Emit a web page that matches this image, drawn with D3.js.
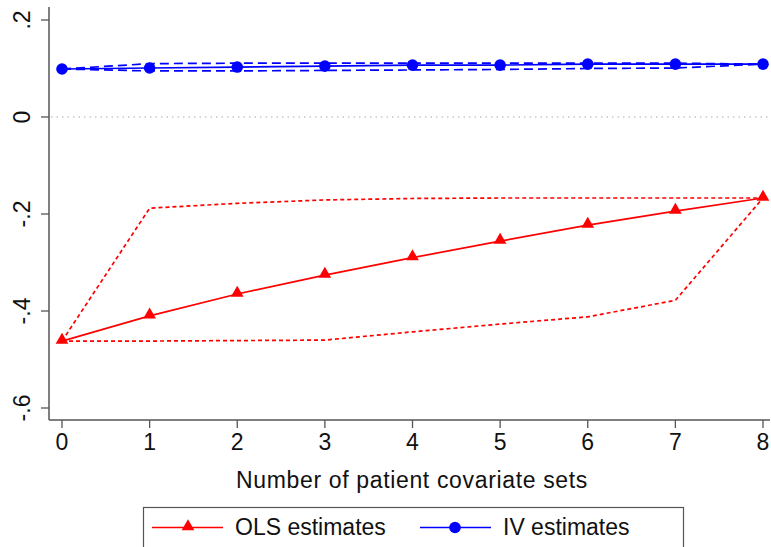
<!DOCTYPE html>
<html>
<head>
<meta charset="utf-8">
<script src="https://cdn.jsdelivr.net/npm/d3@7"></script>
<style>
  body { margin: 0; background: #fff; }
  svg { font-family: "Liberation Sans", Arial, sans-serif; }
</style>
</head>
<body>
<svg id="chart" width="771" height="547"></svg>
<script>
// data
var xs = [0, 1, 2, 3, 4, 5, 6, 7, 8];
var ols = [-0.462, -0.410, -0.365, -0.326, -0.290, -0.256, -0.223, -0.194, -0.167];
var olsHi = [-0.462, -0.188, -0.178, -0.171, -0.168, -0.167, -0.167, -0.167, -0.167];
var olsLo = [-0.462, -0.462, -0.461, -0.460, -0.443, -0.427, -0.412, -0.378, -0.167];
var iv = [0.099, 0.101, 0.103, 0.105, 0.107, 0.107, 0.109, 0.109, 0.109];
var ivHi = [0.099, 0.110, 0.111, 0.111, 0.111, 0.111, 0.111, 0.111, 0.109];
var ivLo = [0.099, 0.095, 0.095, 0.096, 0.097, 0.098, 0.100, 0.101, 0.109];
var yTicks = [0.2, 0, -0.2, -0.4, -0.6];
var yTickLabels = [".2", "0", "-.2", "-.4", "-.6"];
var xTitle = "Number of patient covariate sets";
var legendLabels = ["OLS estimates", "IV estimates"];

var svg = d3.select("#chart");

var x = d3.scaleLinear().domain([0, 8]).range([62, 763]);
var y = d3.scaleLinear().domain([-0.6, 0.2]).range([408, 20]);

var axisCol = "#555";
var fs = 23;

// y axis
var yAxis = svg.append("g").attr("transform", "translate(49,0)");
yAxis.append("line").attr("x1", 0).attr("x2", 0).attr("y1", 7).attr("y2", 420)
  .attr("stroke", axisCol).attr("stroke-width", 1.5);
yTicks.forEach(function(t, i) {
  yAxis.append("line").attr("x1", -8).attr("x2", 0).attr("y1", y(t)).attr("y2", y(t))
    .attr("stroke", axisCol).attr("stroke-width", 1.3);
  yAxis.append("text")
    .attr("transform", "translate(-19," + y(t) + ") rotate(-90)")
    .attr("text-anchor", "middle")
    .attr("font-size", fs)
    .attr("fill", "#111")
    .text(yTickLabels[i]);
});

// x axis
var xAxis = svg.append("g").attr("transform", "translate(0,420)");
xAxis.append("line").attr("x1", 49).attr("x2", 770).attr("y1", 0).attr("y2", 0)
  .attr("stroke", axisCol).attr("stroke-width", 1.5);
xs.forEach(function(t) {
  xAxis.append("line").attr("x1", x(t)).attr("x2", x(t)).attr("y1", 0).attr("y2", 8)
    .attr("stroke", axisCol).attr("stroke-width", 1.3);
  xAxis.append("text").attr("x", x(t)).attr("y", 30)
    .attr("text-anchor", "middle").attr("font-size", fs).attr("fill", "#111")
    .text(t);
});

svg.append("text").attr("x", 412).attr("y", 488)
  .attr("text-anchor", "middle").attr("font-size", fs).attr("fill", "#111")
  .attr("letter-spacing", 0.65)
  .text(xTitle);

// zero line
svg.append("line").attr("x1", 51).attr("x2", 770).attr("y1", y(0)).attr("y2", y(0))
  .attr("stroke", "#aaa").attr("stroke-width", 1.2).attr("stroke-dasharray", "1.5,4");

var line = d3.line().x(function(d, i) { return x(xs[i]); }).y(function(d) { return y(d); });

// OLS
svg.append("path").datum(olsHi).attr("d", line).attr("fill", "none")
  .attr("stroke", "red").attr("stroke-width", 1.7).attr("stroke-dasharray", "4,3");
svg.append("path").datum(olsLo).attr("d", line).attr("fill", "none")
  .attr("stroke", "red").attr("stroke-width", 1.7).attr("stroke-dasharray", "4,3");
svg.append("path").datum(ols).attr("d", line).attr("fill", "none")
  .attr("stroke", "red").attr("stroke-width", 1.7);
var tri = d3.symbol().type(d3.symbolTriangle).size(70);
svg.selectAll(".tri").data(ols).enter().append("path")
  .attr("transform", function(d, i) { return "translate(" + x(xs[i]) + "," + (y(d) - 1) + ")"; })
  .attr("d", tri).attr("fill", "red");

// IV
svg.append("path").datum(ivHi).attr("d", line).attr("fill", "none")
  .attr("stroke", "blue").attr("stroke-width", 1.7).attr("stroke-dasharray", "9,5");
svg.append("path").datum(ivLo).attr("d", line).attr("fill", "none")
  .attr("stroke", "blue").attr("stroke-width", 1.7).attr("stroke-dasharray", "9,5");
svg.append("path").datum(iv).attr("d", line).attr("fill", "none")
  .attr("stroke", "blue").attr("stroke-width", 1.7);
svg.selectAll(".dot").data(iv).enter().append("circle")
  .attr("cx", function(d, i) { return x(xs[i]); })
  .attr("cy", function(d) { return y(d); })
  .attr("r", 5.8).attr("fill", "blue");

// legend
var leg = svg.append("g");
leg.append("rect").attr("x", 143.5).attr("y", 507.5).attr("width", 540).attr("height", 50)
  .attr("fill", "#fff").attr("stroke", "#555").attr("stroke-width", 1.2);
var legY = 527.5;
leg.append("line").attr("x1", 152).attr("x2", 223).attr("y1", legY).attr("y2", legY)
  .attr("stroke", "red").attr("stroke-width", 1.7);
leg.append("path").attr("transform", "translate(188," + (legY - 1) + ")").attr("d", tri).attr("fill", "red");
leg.append("text").attr("x", 235).attr("y", 535).attr("font-size", fs).attr("fill", "#111")
  .text(legendLabels[0]);
leg.append("line").attr("x1", 420).attr("x2", 491).attr("y1", legY).attr("y2", legY)
  .attr("stroke", "blue").attr("stroke-width", 1.7);
leg.append("circle").attr("cx", 455).attr("cy", legY).attr("r", 5.8).attr("fill", "blue");
leg.append("text").attr("x", 503).attr("y", 535).attr("font-size", fs).attr("fill", "#111")
  .text(legendLabels[1]);
</script>
</body>
</html>
